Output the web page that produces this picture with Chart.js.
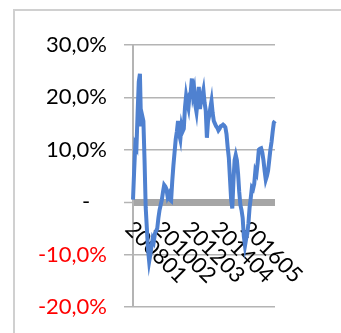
<!DOCTYPE html>
<html>
<head>
<meta charset="utf-8">
<script src="https://cdn.jsdelivr.net/npm/chart.js@4.4.1/dist/chart.umd.min.js"></script>
<style>
html, body { margin: 0; padding: 0; background: #fff; }
#frame { position: absolute; left: 13px; top: 9px; width: 400px; height: 400px; border: 2px solid #d0d0d0; }
#wrap { position: absolute; left: 0; top: 0; width: 341px; height: 333px; }
</style>
</head>
<body>
<div id="frame"></div>
<div id="wrap"><canvas id="returns" width="341" height="333"></canvas></div>
<script>
"use strict";

// monthly series, 2008-01 .. 2018-04, in percent
var startYear = 2008, startMonth = 1, monthCount = 124;
var labelStep = 25;

var returns = [
  0.5, 6, 11, 10.5, 17, 23, 24.5, 14.5, 16.5, 15.5,
  8, -1, -5, -9, -11.3, -10, -8.5, -7, -7.5, -6,
  -5.5, -5, -3, -1.5, -0.5, 0.5, 2, 3.3, 3, 2.5,
  1, 1.5, 0.5, 0.3, 4, 7, 9.5, 12, 13.5, 15.5,
  13, 12, 14.5, 13.5, 14, 18, 20.3, 19, 18, 20.5,
  21, 23.6, 20.5, 21.5, 18.5, 17.2, 19.5, 22, 17.8, 19.5,
  20.3, 21.4, 19, 17.5, 12.3, 15.5, 16.5, 18, 19.3, 17,
  15.5, 15, 14.5, 14.2, 13.7, 14, 14.5, 14.6, 14.8, 14.6,
  14.3, 13, 10.5, 8.5, 4.5, 0.5, -1.2, 4, 8, 9,
  8, 5.5, 2, -0.5, -1.5, -3, -6.5, -8.3, -7, -6,
  -4, -1, 0.8, 2.8, 2.5, 3.5, 6, 5.5, 7.5, 10,
  10.2, 10.3, 9.5, 8, 6, 4.3, 5, 6, 8, 10,
  11.5, 13.5, 15.2, 15.5
];

var yMin = -20, yMax = 30, yStep = 10;

// category labels yyyymm
var months = [];
for (var k = 0; k < monthCount; k++) {
  var m = startMonth - 1 + k;
  var yy = startYear + Math.floor(m / 12);
  var mm = (m % 12) + 1;
  months.push(String(yy) + (mm < 10 ? "0" + mm : String(mm)));
}

function pctLabel(v) {
  if (v === 0) return "-   ";
  return v.toFixed(1).replace(".", ",") + "%";
}

// category labels in the Excel style: slanted down to the right, hanging under the 0 line
var slantedLabels = {
  id: "slantedLabels",
  beforeDatasetsDraw: function(chart) {
    var x = chart.scales.x, y = chart.scales.y, ctx = chart.ctx;
    var y0 = y.getPixelForValue(0);
    ctx.save();
    ctx.font = "22px Lato";
    ctx.fillStyle = "#000";
    ctx.textAlign = "left";
    ctx.textBaseline = "middle";
    for (var i = 0; i < months.length; i += labelStep) {
      ctx.save();
      ctx.translate(x.getPixelForValue(i) - 4, y0 + 23);
      ctx.rotate(Math.PI / 4);
      ctx.fillText(months[i], 0, 0);
      ctx.restore();
    }
    ctx.restore();
  }
};

var ctx = document.getElementById("returns");
var returnsChart = new Chart(ctx, {
  type: "line",
  data: {
    labels: months,
    datasets: [{
      data: returns,
      borderColor: "#4f81d0",
      borderWidth: 4,
      pointRadius: 0,
      tension: 0,
      fill: false
    }]
  },
  plugins: [slantedLabels],
  options: {
    responsive: false,
    animation: false,
    devicePixelRatio: 1,
    layout: { padding: { left: 0, top: 45, right: 66, bottom: 26 } },
    plugins: { legend: { display: false }, tooltip: { enabled: false } },
    scales: {
      x: {
        type: "category", display: false, offset: false,
        afterFit: function(scale) { scale.height = 0; scale.paddingLeft = 0; scale.paddingRight = 0; scale.paddingTop = 0; scale.paddingBottom = 0; }
      },
      y: {
        min: yMin,
        max: yMax,
        afterFit: function(scale) { scale.width = 133; scale.paddingTop = 0; scale.paddingBottom = 0; },
        ticks: {
          stepSize: yStep,
          padding: 17,
          font: { family: "Lato", size: 22 },
          color: function(c) { return c.tick.value < 0 ? "#ff0000" : "#000000"; },
          callback: function(v) { return pctLabel(v); }
        },
        grid: {
          color: function(c) { return c.tick.value === 0 ? "#a6a6a6" : "#b4b4b4"; },
          lineWidth: function(c) { return c.tick.value === 0 ? 7 : 1.5; },
          tickLength: 9,
          tickWidth: 1.5,
          tickColor: "#b4b4b4"
        },
        border: { display: true, color: "#b4b4b4", width: 2 }
      }
    }
  }
});
</script>
</body>
</html>
